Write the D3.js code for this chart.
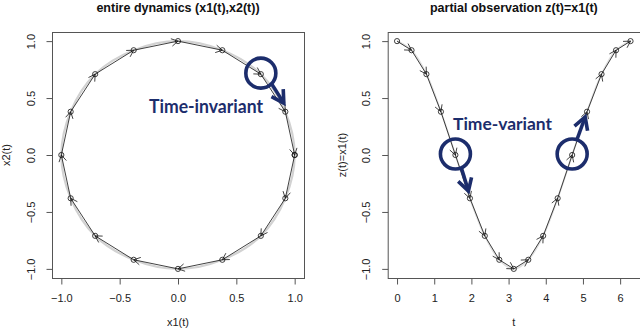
<!DOCTYPE html>
<html>
<head>
<meta charset="utf-8">
<script src="https://cdn.jsdelivr.net/npm/d3@7"></script>
<style>
  body { margin: 0; background: #fff; }
  svg { display: block; font-family: "Liberation Sans", Arial, sans-serif; }
</style>
</head>
<body>
<svg id="chart" width="640" height="331"></svg>
<script>
var tVals  = [0, 0.39, 0.79, 1.18, 1.57, 1.96, 2.36, 2.75, 3.14, 3.53, 3.93, 4.32, 4.71, 5.11, 5.50, 5.89, 6.28];
var x1Vals = [1, 0.92, 0.71, 0.38, 0, -0.38, -0.71, -0.92, -1, -0.92, -0.71, -0.38, 0, 0.38, 0.71, 0.92, 1];
var x2Vals = [0, -0.38, -0.71, -0.92, -1, -0.92, -0.71, -0.38, 0, 0.38, 0.71, 0.92, 1, 0.92, 0.71, 0.38, 0];

// ticks
var circTicks  = [-1, -0.5, 0, 0.5, 1];
var circLabels = ["\u22121.0", "\u22120.5", "0.0", "0.5", "1.0"];
var tTicks     = [0, 1, 2, 3, 4, 5, 6];
var tLabels    = ["0", "1", "2", "3", "4", "5", "6"];

// annotations: index of the highlighted sample in each panel
var leftMark   = 14;
var rightMarks = [4, 12];

var navy = "#1c2d6c";
var svg = d3.select("#chart");

// ---- scales --------------------------------------------------------------
var plotTop = 32, plotBottom = 278;
var xl = d3.scaleLinear().domain([-1.08, 1.08]).range([52, 304]);
var yl = d3.scaleLinear().domain([-1.08, 1.08]).range([plotBottom, plotTop]);
var xr = d3.scaleLinear().domain([-0.2513, 6.5345]).range([387.7, 640]);
var yr = d3.scaleLinear().domain([-1.08, 1.08]).range([plotBottom, plotTop]);

// open arrow head ending at (x1,y1)
function headPath(x0, y0, x1, y1, len, ang) {
    var a = Math.atan2(y1 - y0, x1 - x0);
    var p1 = [x1 - len * Math.cos(a - ang), y1 - len * Math.sin(a - ang)];
    var p2 = [x1 - len * Math.cos(a + ang), y1 - len * Math.sin(a + ang)];
    return "M" + p1 + "L" + [x1, y1] + "L" + p2;
}

function drawPanel(xs, ys, xData, yData, xTicks, xLabels, title, xTitle, yTitle, closed) {
    var g = svg.append("g");
    var x0 = xs.range()[0], x1 = xs.range()[1];
    var pts = xData.map(function(d, i) { return [xs(d), ys(yData[i])]; });

    // light grey underlying curve
    var line = d3.line().curve(closed ? d3.curveCatmullRomClosed : d3.curveCatmullRom);
    g.append("path")
        .attr("d", line(closed ? pts.slice(0, pts.length - 1) : pts))
        .attr("fill", "none")
        .attr("stroke", closed ? "#d2d2d2" : "#e0e0e0")
        .attr("stroke-width", closed ? 2.2 : 1.8);

    // black segments with arrows
    for (var i = 0; i < pts.length - 1; i++) {
        var a = pts[i], b = pts[i + 1];
        g.append("path")
            .attr("d", "M" + a + "L" + b + headPath(a[0], a[1], b[0], b[1], 7.5, Math.PI / 6))
            .attr("fill", "none")
            .attr("stroke", "#111")
            .attr("stroke-width", 0.8);
    }

    // sample points
    g.selectAll(".pt").data(pts).enter().append("circle")
        .attr("cx", function(d) { return d[0]; })
        .attr("cy", function(d) { return d[1]; })
        .attr("r", 2.6)
        .attr("fill", "none")
        .attr("stroke", "#111")
        .attr("stroke-width", 0.8);

    // box
    g.append("rect")
        .attr("x", x0 + 0.5).attr("y", plotTop + 0.5)
        .attr("width", x1 - x0).attr("height", plotBottom - plotTop)
        .attr("fill", "none").attr("stroke", "#555").attr("stroke-width", 1);

    // x axis
    var xa = g.append("g").attr("transform", "translate(0," + (plotBottom + 0.5) + ")")
        .call(d3.axisBottom(xs).tickValues(xTicks).tickSize(6).tickPadding(7)
              .tickFormat(function(d, i) { return xLabels[i]; }));
    xa.select(".domain").remove();
    xa.selectAll("line").attr("stroke", "#555");
    xa.selectAll("text").attr("font-size", 11).attr("fill", "#222")
        .attr("font-family", null).attr("dy", null).attr("y", 23);

    // y axis
    var ya = g.append("g").attr("transform", "translate(" + (x0 + 0.5) + ",0)")
        .call(d3.axisLeft(ys).tickValues(circTicks).tickSize(6)
              .tickFormat(function(d, i) { return circLabels[i]; }));
    ya.select(".domain").remove();
    ya.selectAll("line").attr("stroke", "#555");
    ya.selectAll("text").attr("font-size", 11).attr("fill", "#222")
        .attr("font-family", null).attr("dy", null)
        .attr("text-anchor", "middle").attr("x", 0).attr("y", -18)
        .attr("transform", "rotate(-90)");

    var cx = (x0 + x1) / 2;
    g.append("text").attr("x", cx).attr("y", 11.5).attr("text-anchor", "middle")
        .attr("font-size", 12.5).attr("font-weight", "bold").attr("fill", "#111").text(title);
    g.append("text").attr("x", cx).attr("y", 326).attr("text-anchor", "middle")
        .attr("font-size", 11).attr("fill", "#222").text(xTitle);
    g.append("text").attr("transform", "translate(" + (x0 - 42) + "," + ((plotTop + plotBottom) / 2) + ") rotate(-90)")
        .attr("text-anchor", "middle").attr("font-size", 11).attr("fill", "#222").text(yTitle);
}

drawPanel(xl, yl, x1Vals, x2Vals, circTicks, circLabels,
          "entire dynamics (x1(t),x2(t))", "x1(t)", "x2(t)", true);
drawPanel(xr, yr, tVals, x1Vals, tTicks, tLabels,
          "partial observation z(t)=x1(t)", "t", "z(t)=x1(t)", false);

// ---- navy highlight annotations -----------------------------------------
function highlight(cx, cy, s, e) {
    var a = svg.append("g").attr("fill", "none").attr("stroke", navy)
        .attr("stroke-width", 3.6).attr("stroke-linejoin", "miter");
    a.append("circle").attr("cx", cx).attr("cy", cy).attr("r", 15);
    var sx = cx + s[0], sy = cy + s[1], ex = cx + e[0], ey = cy + e[1];
    a.append("path").attr("d", "M" + [sx, sy] + "L" + [ex, ey]);
    a.append("path").attr("d", headPath(sx, sy, ex, ey, 14, 0.52));
}

highlight(xl(x1Vals[leftMark]), yl(x2Vals[leftMark]) - 1, [11, 11], [23, 30]);
highlight(xr(tVals[rightMarks[0]]), yr(x1Vals[rightMarks[0]]) - 1, [6, 14], [13, 37]);
highlight(xr(tVals[rightMarks[1]]), yr(x1Vals[rightMarks[1]]) - 1, [5, -15], [13, -37]);

svg.append("text").attr("x", 149).attr("y", 113)
    .attr("font-family", "Lato, 'Open Sans', sans-serif").attr("font-weight", "bold")
    .attr("font-size", 18).attr("fill", navy)
    .attr("textLength", 114).attr("lengthAdjust", "spacingAndGlyphs")
    .text("Time-invariant");
svg.append("text").attr("x", 453).attr("y", 130)
    .attr("font-family", "Lato, 'Open Sans', sans-serif").attr("font-weight", "bold")
    .attr("font-size", 17).attr("fill", navy)
    .attr("textLength", 99).attr("lengthAdjust", "spacingAndGlyphs")
    .text("Time-variant");
</script>
</body>
</html>
